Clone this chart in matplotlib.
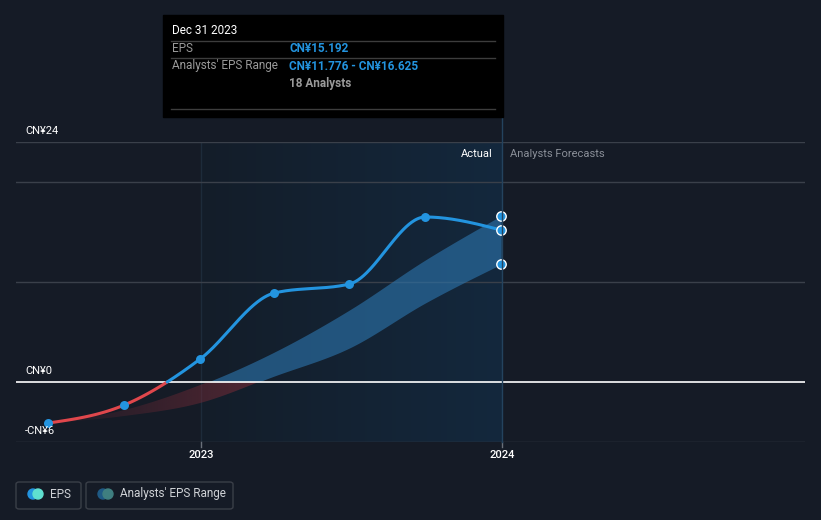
import datetime as dt

import matplotlib

matplotlib.use("Agg")
import matplotlib.dates as mdates
import matplotlib.pyplot as plt
import numpy as np
from matplotlib.lines import Line2D
from matplotlib.patches import Ellipse, FancyBboxPatch, Rectangle

plt.rcParams["font.family"] = ["Roboto", "DejaVu Sans"]

# 実績 EPS（四半期ごと、CN¥）
eps_dates = ["2022-06-30", "2022-09-30", "2022-12-31", "2023-03-31", "2023-06-30", "2023-09-30", "2023-12-31"]
eps_values = [-4.1, -2.3, 2.3, 8.9, 9.8, 16.5, 15.192]

# アナリスト予想レンジ（上限・下限）
range_dates = ["2022-06-30", "2022-09-30", "2022-12-31", "2023-03-31", "2023-06-30", "2023-09-30", "2023-12-31"]
range_high = [-4.1, -2.8, -0.3, 3.0, 7.2, 12.2, 16.625]
range_low = [-4.1, -3.4, -2.1, 0.6, 3.4, 7.9, 11.776]

grid_values = [24, 20, 10, -6]
y_labels = {24: "CN¥24", 0: "CN¥0", -6: "-CN¥6"}
x_ticks = ["2023-01-01", "2024-01-01"]
x_tick_labels = ["2023", "2024"]

BG = "#151b26"
BLUE = "#2394df"
RED = "#e0474c"
W, H = 821, 520


def to_num(ds):
    return np.array([mdates.date2num(dt.datetime.strptime(d, "%Y-%m-%d")) for d in ds])


def monotone_x(x, y, n=80):
    """d3 の curveMonotoneX 相当の滑らかな曲線を描画用に作る。"""
    x, y = np.asarray(x, float), np.asarray(y, float)
    h = np.diff(x)
    s = np.diff(y) / h
    t = np.zeros(len(x))
    for i in range(1, len(x) - 1):
        p = (s[i - 1] * h[i] + s[i] * h[i - 1]) / (h[i - 1] + h[i])
        t[i] = (np.sign(s[i - 1]) + np.sign(s[i])) * min(abs(s[i - 1]), abs(s[i]), 0.5 * abs(p))
    t[0] = (3 * s[0] - t[1]) / 2
    t[-1] = (3 * s[-1] - t[-2]) / 2
    xs, ys = [], []
    for i in range(len(x) - 1):
        u = np.linspace(0, 1, n)
        h00 = 2 * u**3 - 3 * u**2 + 1
        h10 = u**3 - 2 * u**2 + u
        h01 = -2 * u**3 + 3 * u**2
        h11 = u**3 - u**2
        xs.append(x[i] + u * h[i])
        ys.append(h00 * y[i] + h10 * h[i] * t[i] + h01 * y[i + 1] + h11 * h[i] * t[i + 1])
    return np.concatenate(xs), np.concatenate(ys)


def fy(px_y):
    return (H - px_y) / H


fig = plt.figure(figsize=(W / 100, H / 100), dpi=100, facecolor=BG)

# 軸: px 16..805 (横), px 142..442 (縦) = CN¥24..-6
x0 = mdates.date2num(dt.datetime(2023, 1, 1))
x1 = mdates.date2num(dt.datetime(2024, 1, 1))
per_px = (x1 - x0) / (502 - 201)
xmin = x0 - (201 - 16) * per_px
xmax = x0 + (805 - 201) * per_px
ax = fig.add_axes([16 / W, fy(442), (805 - 16) / W, 300 / H])
ax.set_facecolor(BG)
ax.set_xlim(xmin, xmax)
ax.set_ylim(-6, 24)
for sp in ax.spines.values():
    sp.set_visible(False)
ax.set_xticks([])
ax.set_yticks([])

# 実績期間のハイライト（グラデーション）
grad = np.linspace(0, 1, 256).reshape(1, -1)
cmap = matplotlib.colors.LinearSegmentedColormap.from_list("hl", ["#141d29", "#13283d"])
ax.imshow(grad, extent=[x0, x1, -6, 24], aspect="auto", cmap=cmap, zorder=0.5)
ax.axvline(x0, color="#1d2b3a", lw=1, zorder=0.6)

for g in grid_values:
    ax.axhline(g, color="#3a404a", lw=1, zorder=1)
ax.axhline(0, color="white", lw=1.2, zorder=4)

# 予想レンジの帯（0 を境に青／赤）
rx = to_num(range_dates)
bx, bh = monotone_x(rx, range_high)
_, bl = monotone_x(rx, range_low)
ax.fill_between(bx, np.maximum(bl, 0), np.maximum(bh, 0), where=bh > 0, interpolate=True,
                color="#2c74ac", alpha=0.62, lw=0, zorder=2)
red_poly = ax.fill_between(bx, np.minimum(bl, 0), np.minimum(bh, 0), where=bl < 0, interpolate=True,
                           color="none", lw=0, zorder=2)
# 赤帯は左へ行くほど薄くなる
rgba = np.zeros((1, 256, 4))
rgba[..., :3] = matplotlib.colors.to_rgb("#7a2c38")
rgba[..., 3] = np.linspace(0.05, 0.6, 256)
red_end = bx[np.where(bl < 0)[0][-1]]
im = ax.imshow(rgba, extent=[rx[0], red_end, -6, 0], aspect="auto", zorder=2.1)
im.set_clip_path(red_poly.get_paths()[0], transform=ax.transData)

# EPS ライン（0 未満は赤）
ex = to_num(eps_dates)
lx, ly = monotone_x(ex, eps_values)
k = np.argmax(ly >= 0)
xc = lx[k - 1] + (0 - ly[k - 1]) * (lx[k] - lx[k - 1]) / (ly[k] - ly[k - 1])
ax.plot(np.r_[lx[:k], xc], np.r_[ly[:k], 0], color=RED, lw=2.2, zorder=5, solid_capstyle="round")
ax.plot(np.r_[xc, lx[k:]], np.r_[0, ly[k:]], color=BLUE, lw=2.2, zorder=5, solid_capstyle="round")
ax.scatter(ex[:-1], eps_values[:-1], s=42, color=BLUE, zorder=6, lw=0)
ax.scatter([ex[-1]] * 3, [eps_values[-1], range_high[-1], range_low[-1]], s=46, color=BLUE,
           edgecolors="white", linewidths=1, zorder=7)
ax.set_xlim(xmin, xmax)
ax.set_ylim(-6, 24)

# 2024 の縦線（ツールチップ位置）
fig.add_artist(Line2D([502 / W, 502 / W], [fy(442), fy(117)], color="#24435e", lw=1))

# 左端の軸ラベル
for v, lab in y_labels.items():
    fig.text(25 / W, fy(382 - v * 10 - 6), lab, color="white", fontsize=8, va="bottom")

# x 目盛
for d, lab in zip(to_num(x_ticks), x_tick_labels):
    ax.plot([d, d], [-6, -6.5], color="#6a707a", lw=1, clip_on=False)
    px = 16 + (d - xmin) / per_px
    fig.text(px / W, fy(455), lab, color="white", fontsize=8, ha="center", va="center", fontweight="medium")

fig.text(493 / W, fy(154), "Actual", color="white", fontsize=8, ha="right", va="center")
fig.text(510 / W, fy(154), "Analysts Forecasts", color="#8a8f98", fontsize=8, ha="left", va="center")

# ツールチップ
fig.add_artist(Rectangle((163 / W, fy(117)), 340 / W, 102 / H, color="black", zorder=10))
for yy in (41, 58, 109):
    fig.add_artist(Line2D([171 / W, 495 / W], [fy(yy)] * 2, color="#3d3d3d", lw=1, zorder=11))
fig.text(172 / W, fy(31), "Dec 31 2023", color="white", fontsize=8.5, va="center", zorder=12)
fig.text(172 / W, fy(49), "EPS", color="#9a9a9a", fontsize=8.5, va="center", zorder=12)
fig.text(289 / W, fy(49), "CN¥15.192", color=BLUE, fontsize=8.5, va="center", fontweight="bold", zorder=12)
fig.text(172 / W, fy(66), "Analysts' EPS Range", color="#9a9a9a", fontsize=8.5, va="center", zorder=12)
fig.text(289 / W, fy(66), "CN¥11.776 - CN¥16.625", color=BLUE, fontsize=8.5, va="center",
         fontweight="bold", zorder=12)
fig.text(289 / W, fy(83), "18 Analysts", color="#9a9a9a", fontsize=8.5, va="center", fontweight="bold",
         zorder=12)

# 凡例
legend_items = [("EPS", 16, 81, BLUE, "#5fe0d0"), ("Analysts' EPS Range", 86, 233, "#1f5a85", "#3f7f80")]
for lab, l, r, c1, c2 in legend_items:
    fig.add_artist(FancyBboxPatch((l / W, fy(509)), (r - l) / W, 27 / H,
                                  boxstyle="round,pad=0,rounding_size=0.004", fc="none", ec="#3a3f48", lw=1))
    fig.add_artist(Ellipse(((l + 17) / W, fy(494)), 10 / W, 10 / H, color=c1))
    fig.add_artist(Ellipse(((l + 22) / W, fy(494)), 10 / W, 10 / H, color=c2))
    fig.text((l + 34) / W, fy(494), lab, color="#cfd2d6", fontsize=8.5, va="center")

fig.savefig("out.png", dpi=100, facecolor=BG)
